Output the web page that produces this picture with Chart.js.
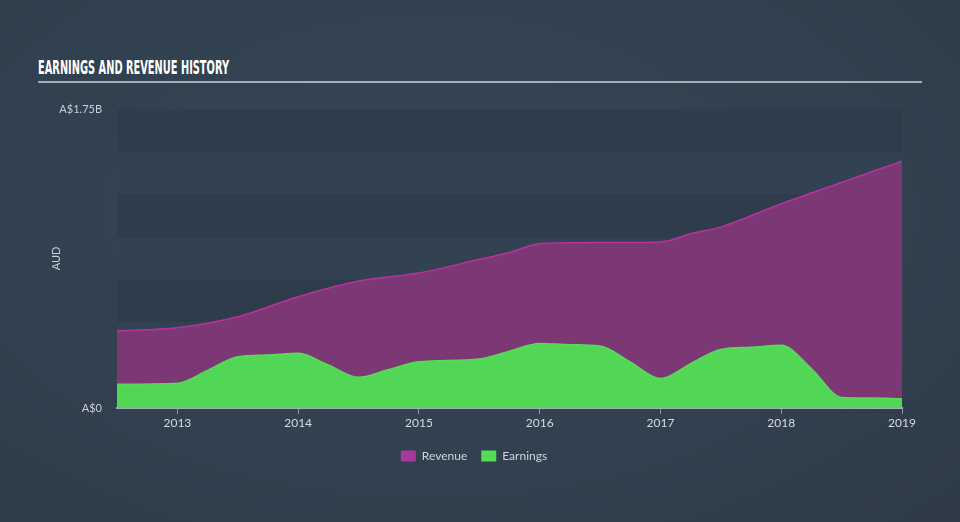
<!DOCTYPE html>
<html>
<head>
<meta charset="utf-8">
<script src="https://cdn.jsdelivr.net/npm/chart.js@4.4.0/dist/chart.umd.min.js"></script>
<style>
  html, body { margin: 0; padding: 0; }
  body {
    width: 960px; height: 522px; overflow: hidden; position: relative;
    background: radial-gradient(ellipse at 45% 40%, #354657 0%, #324150 55%, #2e3a47 100%);
    font-family: Lato, "Open Sans", sans-serif;
  }
  #title {
    position: absolute; left: 38px; top: 55px;
    font-family: "Liberation Sans Narrow", "DejaVu Sans Condensed", sans-serif;
    font-weight: bold; font-size: 20px; color: #ffffff;
    white-space: nowrap; transform-origin: left top; display: inline-block;
  }
  #rule {
    position: absolute; left: 38px; top: 81px; width: 884px; height: 2px;
    background: #a7adb6;
  }
  #wrap { position: absolute; left: 0; top: 0; width: 960px; height: 522px; }
</style>
</head>
<body>
<div id="title">EARNINGS AND REVENUE HISTORY</div>
<div id="rule"></div>
<div id="wrap"><canvas id="chart"></canvas></div>
<script>
// Data (AUD billions)
var revenueYears = [2012.5, 2013.0, 2013.5, 2014.0, 2014.5, 2015.0, 2015.5, 2015.75, 2016.0, 2016.5, 2017.0, 2017.25, 2017.5, 2018.0, 2018.5, 2019.0];
var revenueValues = [0.452, 0.47, 0.534, 0.651, 0.743, 0.79, 0.87, 0.91, 0.962, 0.968, 0.972, 1.02, 1.06, 1.195, 1.32, 1.445];

var earningsYears = [2012.5, 2013.0, 2013.25, 2013.5, 2013.75, 2014.0, 2014.25, 2014.5, 2014.75, 2015.0, 2015.5, 2015.75, 2016.0, 2016.25, 2016.5, 2016.75, 2017.0, 2017.25, 2017.5, 2017.75, 2018.0, 2018.25, 2018.5, 2018.75, 2019.0];
var earningsValues = [0.139, 0.145, 0.22, 0.30, 0.31, 0.32, 0.252, 0.18, 0.225, 0.27, 0.287, 0.333, 0.378, 0.37, 0.363, 0.27, 0.172, 0.26, 0.343, 0.355, 0.367, 0.23, 0.062, 0.058, 0.054];

var yearTicks = [2013, 2014, 2015, 2016, 2017, 2018, 2019];
var yearLabels = ['2013', '2014', '2015', '2016', '2017', '2018', '2019'];
var yTickValues = [0, 1.75];
var yTickLabels = ['A$0', 'A$1.75B'];

function toPoints(xs, ys) {
    return xs.map(function (x, i) { return { x: x, y: ys[i] }; });
}

// Title squeeze to match the condensed heading
var t = document.getElementById('title');
t.style.transform = 'scaleX(' + (191 / t.getBoundingClientRect().width) + ')';

// Alternating horizontal bands behind the series
var bandsPlugin = {
    id: 'bands',
    beforeDatasetsDraw: function (chart) {
        var ctx = chart.ctx, area = chart.chartArea, y = chart.scales.y;
        var step = 0.25, n = Math.round((y.max - y.min) / step);
        ctx.save();
        for (var i = 0; i < n; i++) {
            var top = y.getPixelForValue(y.max - i * step);
            var bottom = y.getPixelForValue(y.max - (i + 1) * step);
            ctx.fillStyle = i % 2 === 0 ? '#2e3c4b' : '#324252';
            ctx.fillRect(area.left, top, area.right - area.left, bottom - top);
        }
        ctx.restore();
    }
};

Chart.defaults.font.family = 'Lato, "Open Sans", sans-serif';
Chart.defaults.color = '#d6dae0';

var ctx = document.getElementById('chart').getContext('2d');
var chart = new Chart(ctx, {
    type: 'line',
    data: {
        datasets: [{
            label: 'Earnings',
            data: toPoints(earningsYears, earningsValues),
            borderColor: '#58dc58',
            backgroundColor: '#52d655',
            borderWidth: 1.5,
            fill: 'origin',
            pointRadius: 0,
            cubicInterpolationMode: 'monotone'
        },
        {
            label: 'Revenue',
            data: toPoints(revenueYears, revenueValues),
            borderColor: '#b8329f',
            backgroundColor: '#7b3874',
            borderWidth: 1.5,
            fill: 'origin',
            pointRadius: 0,
            cubicInterpolationMode: 'monotone'
        }]
    },
    options: {
        responsive: true,
        maintainAspectRatio: false,
        animation: false,
        layout: { padding: { top: 109, right: 58, bottom: 50, left: 46 } },
        plugins: {
            tooltip: { enabled: false },
            legend: {
                position: 'bottom',
                reverse: true,
                labels: {
                    boxWidth: 15,
                    boxHeight: 11,
                    padding: 14,
                    color: '#d0d4da',
                    font: { size: 12 },
                    generateLabels: function (chart) {
                        var items = Chart.defaults.plugins.legend.labels.generateLabels(chart);
                        items.forEach(function (it) {
                            it.fillStyle = it.text === 'Revenue' ? '#a8389c' : '#52e052';
                            it.strokeStyle = it.fillStyle;
                            it.lineWidth = 0;
                        });
                        return items;
                    }
                }
            }
        },
        scales: {
            x: {
                type: 'linear',
                min: 2012.5,
                max: 2019.0,
                afterBuildTicks: function (scale) {
                    scale.ticks = yearTicks.map(function (v) { return { value: v }; });
                },
                afterFit: function (scale) { scale.height = 28; },
                ticks: {
                    color: '#d6dae0',
                    font: { size: 12 },
                    padding: 2,
                    maxRotation: 0,
                    callback: function (v) {
                        var i = yearTicks.indexOf(v);
                        return i >= 0 ? yearLabels[i] : '';
                    }
                },
                grid: {
                    drawOnChartArea: false,
                    drawTicks: true,
                    tickLength: 6,
                    color: '#8e97a4'
                },
                border: { display: true, color: '#a6adb8', width: 2 }
            },
            y: {
                min: 0,
                max: 1.75,
                afterBuildTicks: function (scale) {
                    scale.ticks = yTickValues.map(function (v) { return { value: v }; });
                },
                afterFit: function (scale) { scale.width = 71; },
                ticks: {
                    color: '#c9ced5',
                    font: { size: 11 },
                    padding: 15,
                    callback: function (v) {
                        var i = yTickValues.indexOf(v);
                        return i >= 0 ? yTickLabels[i] : '';
                    }
                },
                grid: { display: false, drawTicks: false, tickLength: 0 },
                border: { display: false },
                title: {
                    display: true,
                    text: 'AUD',
                    color: '#c9ced5',
                    font: { size: 11 }
                }
            }
        }
    },
    plugins: [bandsPlugin]
});
</script>
</body>
</html>
